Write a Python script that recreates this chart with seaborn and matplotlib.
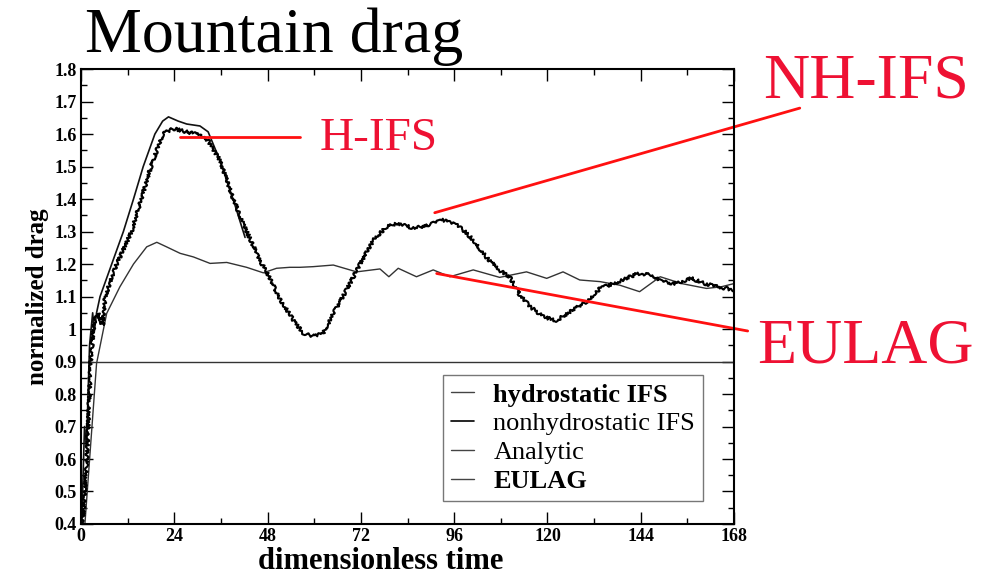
import matplotlib
matplotlib.use("Agg")
import matplotlib.pyplot as plt
import seaborn as sns
import pandas as pd
from matplotlib.ticker import MultipleLocator
from matplotlib.lines import Line2D

# ---------------- data ----------------
hydro_t = [0, 0.3, 0.9, 1.4, 2.2, 3.0, 3.4, 4.0, 4.9, 7.9, 10.9, 13.5, 16.0, 19.0,
           21.0, 22.5, 25.0, 27.2, 30.6, 32.7, 35.7, 39.2, 42.2]
hydro_v = [0.40, 0.45, 0.70, 0.64, 0.95, 1.05, 0.99, 1.05, 1.10, 1.20, 1.30, 1.40, 1.50, 1.60,
           1.64, 1.653, 1.64, 1.631, 1.625, 1.607, 1.52, 1.397, 1.282]

nonhydro_t = [0, 0.5, 1.5, 2.5, 3.2, 3.6, 4.5, 5.0, 5.6, 6.2, 9.2, 13.0, 15.5, 18.0, 21.0,
              23.7, 27.2, 30.6, 32.7, 35.7, 39.2, 41.7, 46.0, 47.7, 51.2, 54.6, 57.2, 59.7,
              62.3, 64.9, 68.3, 70.9, 75.2, 78.6, 81.2, 85.9, 90.6, 93.2, 97.5, 100.9, 104.3,
              107.7, 110.3, 112.9, 115.5, 118.9, 122.3, 125.7, 130.0, 133.5, 136.9, 140.3,
              143.3, 146.7, 149.3, 152.7, 157.0, 160.5, 163.9, 168.0]
nonhydro_v = [0.40, 0.42, 0.60, 0.90, 1.00, 1.03, 1.05, 1.02, 1.01, 1.10, 1.20, 1.30, 1.40,
              1.50, 1.60, 1.617, 1.607, 1.597, 1.58, 1.52, 1.40, 1.325, 1.212, 1.176, 1.092,
              1.028, 0.987, 0.978, 0.987, 1.048, 1.12, 1.18, 1.274, 1.315, 1.325, 1.31, 1.325,
              1.335, 1.315, 1.274, 1.22, 1.18, 1.16, 1.105, 1.069, 1.038, 1.026, 1.053, 1.084,
              1.125, 1.14, 1.156, 1.171, 1.166, 1.146, 1.14, 1.156, 1.14, 1.13, 1.12]

analytic_t = [0, 168]
analytic_v = [0.9, 0.9]

eulag_t = [1.0, 4.0, 6.6, 10.0, 13.5, 16.9, 19.5, 22.0, 25.5, 28.9, 33.2, 37.5, 42.6, 46.9,
           50.3, 53.7, 56.3, 59.7, 64.9, 70.9, 76.9, 79.2, 81.6, 86.3, 90.6, 94.9, 100.9,
           107.7, 114.6, 119.8, 124.0, 128.3, 133.5, 138.6, 143.7, 149.0, 154.5, 160.9,
           164.7, 168.0]
eulag_v = [0.40, 0.894, 1.048, 1.13, 1.20, 1.253, 1.267, 1.253, 1.233, 1.222, 1.202, 1.205,
           1.19, 1.173, 1.187, 1.19, 1.19, 1.192, 1.197, 1.176, 1.185, 1.161, 1.187, 1.161,
           1.182, 1.161, 1.182, 1.159, 1.176, 1.156, 1.176, 1.151, 1.146, 1.135, 1.115,
           1.161, 1.14, 1.125, 1.13, 1.14]

legend_labels = ["hydrostatic IFS", "nonhydrostatic IFS", "Analytic", "EULAG"]
x_ticks = [0, 24, 48, 72, 96, 120, 144, 168]

# ---------------- style ----------------
sns.set_theme(style="ticks")
plt.rcParams["font.family"] = ["Liberation Serif", "DejaVu Serif"]
plt.rcParams["text.color"] = "black"
plt.rcParams["axes.labelcolor"] = "black"
plt.rcParams["xtick.color"] = "black"
plt.rcParams["ytick.color"] = "black"

fig = plt.figure(figsize=(9.94, 5.76), dpi=100)
ax = fig.add_axes([0.0815, 0.0903, 0.657, 0.7897])

df_h = pd.DataFrame({"t": hydro_t, "v": hydro_v})
df_n = pd.DataFrame({"t": nonhydro_t, "v": nonhydro_v})
df_a = pd.DataFrame({"t": analytic_t, "v": analytic_v})
df_e = pd.DataFrame({"t": eulag_t, "v": eulag_v})

sns.lineplot(data=df_a, x="t", y="v", ax=ax, color="#333333", lw=1.0,
             estimator=None, sort=False)
sns.lineplot(data=df_e, x="t", y="v", ax=ax, color="#333333", lw=1.0,
             estimator=None, sort=False)
sns.lineplot(data=df_h, x="t", y="v", ax=ax, color="#111111", lw=1.2,
             estimator=None, sort=False)
sns.lineplot(data=df_n, x="t", y="v", ax=ax, color="black", lw=1.5,
             estimator=None, sort=False)
# jagged appearance of the nonhydrostatic curve
ax.lines[-1].set_sketch_params(scale=1.6, length=3.0, randomness=6.0)

ax.set_xlim(0, 168)
ax.set_ylim(0.4, 1.8)
ax.xaxis.set_major_locator(MultipleLocator(24))
ax.xaxis.set_minor_locator(MultipleLocator(12))
ax.yaxis.set_major_locator(MultipleLocator(0.1))
ax.yaxis.set_minor_locator(MultipleLocator(0.05))
ax.set_xticks(x_ticks)
ax.set_xticklabels([str(v) for v in x_ticks])
ax.set_yticks([0.4, 0.5, 0.6, 0.7, 0.8, 0.9, 1.0, 1.1, 1.2, 1.3, 1.4, 1.5, 1.6, 1.7, 1.8])
ax.set_yticklabels(["0.4", "0.5", "0.6", "0.7", "0.8", "0.9", "1", "1.1", "1.2", "1.3",
                    "1.4", "1.5", "1.6", "1.7", "1.8"])
ax.tick_params(which="both", direction="in", top=True, right=True, colors="black",
               labelsize=13)
ax.tick_params(which="major", length=8.5, width=1.0, pad=3)
ax.tick_params(which="minor", length=4.3, width=1.0)
for lab in ax.get_xticklabels() + ax.get_yticklabels():
    lab.set_fontweight("bold")
for sp in ax.spines.values():
    sp.set_linewidth(1.5)
    sp.set_color("black")

ax.set_xlabel("dimensionless time", fontsize=22, fontweight="bold")
ax.xaxis.set_label_coords(0.459, -0.05)
ax.set_ylabel("normalized drag", fontsize=18, fontweight="bold", labelpad=4)

handles = [Line2D([], [], color="#444444", lw=1.0),
           Line2D([], [], color="black", lw=1.2),
           Line2D([], [], color="#444444", lw=1.0),
           Line2D([], [], color="#444444", lw=1.0)]
leg = ax.legend(handles, legend_labels, loc="upper right", bbox_to_anchor=(0.9525, 0.327),
                borderaxespad=0, fontsize=19, frameon=True, fancybox=False,
                handlelength=0.85, handletextpad=0.75, labelspacing=0.2,
                borderpad=0.3)
leg.get_frame().set_edgecolor("#555555")
leg.get_frame().set_linewidth(1.0)
for i, txt in enumerate(leg.get_texts()):
    txt.set_fontweight("bold" if i in (0, 3) else "normal")
    txt.set_color("black")

# title
fig.text(0.086, 0.9097, "Mountain drag", fontsize=46, ha="left", va="baseline",
         color="black")

# red annotations
red_text = "#ee1133"
ax.plot([25.5, 56.3], [1.591, 1.591], color="#ff1010", lw=2.0, clip_on=False)
ax.plot([91.0, 184.9], [1.358, 1.68], color="#ff1010", lw=2.0, clip_on=False)
ax.plot([91.5, 171.5], [1.171, 0.994], color="#ff1010", lw=2.0, clip_on=False)
fig.text(0.322, 0.7396, "H-IFS", fontsize=34, color=red_text, ha="left", va="baseline")
fig.text(0.768, 0.8299, "NH-IFS", fontsize=46, color=red_text, ha="left", va="baseline")
fig.text(0.762, 0.3715, "EULAG", fontsize=46, color=red_text, ha="left", va="baseline")

fig.savefig("out.png", dpi=100)
